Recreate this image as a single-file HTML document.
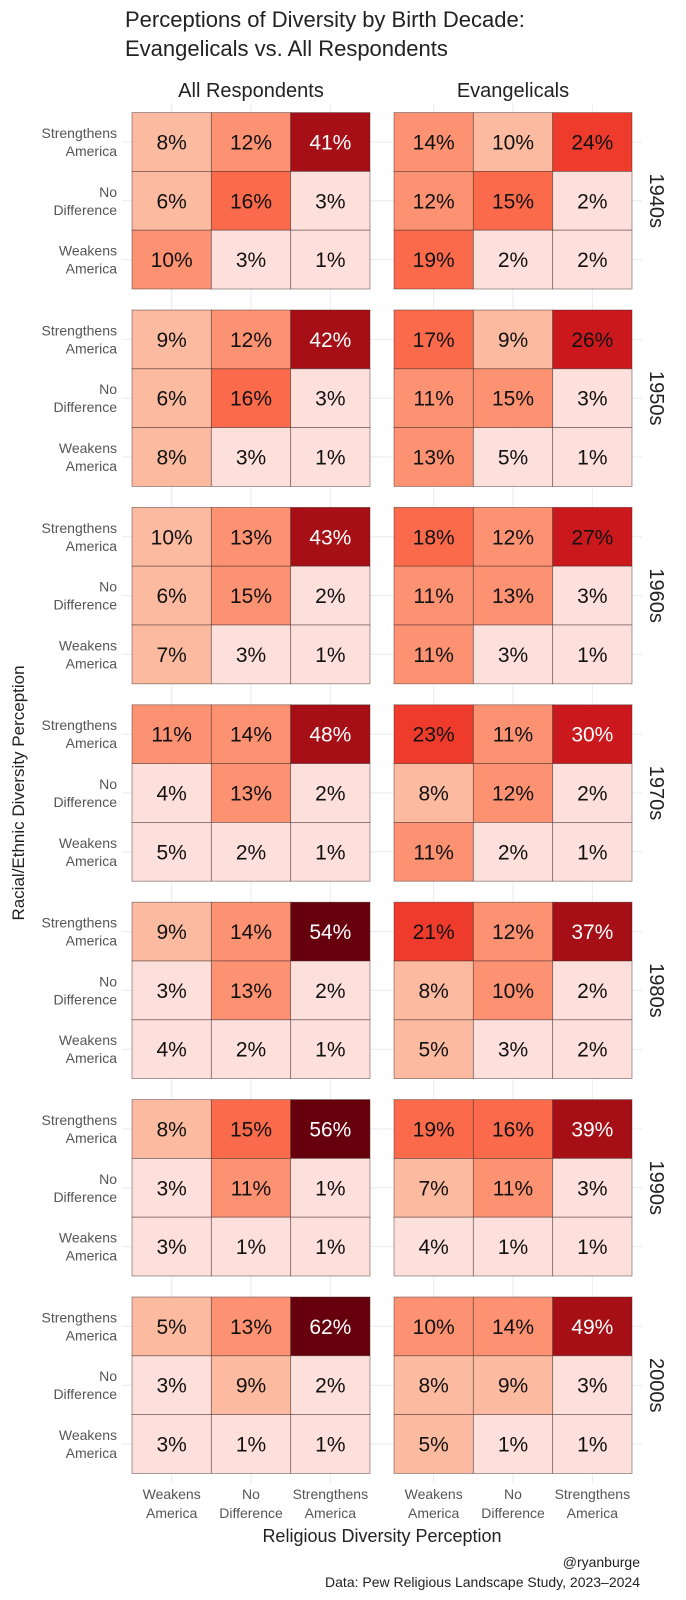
<!DOCTYPE html>
<html><head><meta charset="utf-8">
<style>
html,body{margin:0;padding:0;background:#fff;}
svg{display:block;font-family:"Liberation Sans Narrow","Liberation Sans",sans-serif;}
</style></head>
<body>
<svg id="chart" width="686" height="1600" viewBox="0 0 686 1600">
  <text x="125" y="27" font-size="22" fill="#222">Perceptions of Diversity by Birth Decade:</text>
  <text x="125" y="56" font-size="22" fill="#222">Evangelicals vs. All Respondents</text>
  <text x="251" y="97" font-size="20" fill="#222" text-anchor="middle">All Respondents</text>
  <text x="513" y="97" font-size="20" fill="#222" text-anchor="middle">Evangelicals</text>
  <text transform="translate(24,793) rotate(-90)" font-size="17" fill="#222" text-anchor="middle">Racial/Ethnic Diversity Perception</text>
  <text x="382" y="1542" font-size="18" fill="#222" text-anchor="middle">Religious Diversity Perception</text>
  <text x="640" y="1567" font-size="14" fill="#222" text-anchor="end">@ryanburge</text>
  <text x="640" y="1587" font-size="14" fill="#222" text-anchor="end">Data: Pew Religious Landscape Study, 2023–2024</text>
  <g id="grid"></g>
  <g id="cells"></g>
  <g id="labels"></g>
</svg>
<script>
// Data
const decades = ["1940s","1950s","1960s","1970s","1980s","1990s","2000s"];
const groups = ["All Respondents","Evangelicals"];
const rowCats = ["Strengthens America","No Difference","Weakens America"];
const colCats = ["Weakens America","No Difference","Strengthens America"];
// values[decade][row][col]
const allValues = [
  [[8,12,41],[6,16,3],[10.4,3,1]],
  [[9,12,42],[6,16,3],[8,3,1]],
  [[9.6,13,43],[6,14.6,2],[7,3,1]],
  [[11,14,48],[4,13,2],[4.6,2,1]],
  [[9,14,54],[3,13,2],[4,2,1]],
  [[8,15.4,56],[3,11,1],[3,1,1]],
  [[5.4,13,62],[3,9,2],[3,1,1]]
];
const evValues = [
  [[14,9.6,24],[12,15,2],[19,2,2]],
  [[17,9,26],[11,14.6,3],[13,4.6,1]],
  [[18,12,27],[11,13,3],[11,3,1]],
  [[23,11,30],[8,12,2],[11,2,1]],
  [[21,12,37],[8,10.4,2],[5.4,3,2]],
  [[19,16,39],[7,11,3],[4,1,1]],
  [[10.4,14,49],[8,9,3],[5.4,1,1]]
];

const NS = "http://www.w3.org/2000/svg";
const panelX = [132, 394], panelW = 238;
const panelTop0 = 112.6, panelH = 176.4, panelStep = 197.4;
const colW = panelW / 3, rowH = panelH / 3;
function xPos(g, c){ return panelX[g] + c * colW; }
function yPos(d, r){ return panelTop0 + d * panelStep + r * rowH; }
function fillFor(v){
  if (v < 5) return "#fddfdb";
  if (v < 10) return "#fcbba1";
  if (v < 15) return "#fc9272";
  if (v < 20) return "#fb6a4a";
  if (v < 25) return "#ef3b2c";
  if (v < 35) return "#cb181d";
  if (v < 50) return "#a50f15";
  return "#67000d";
}
function mk(tag, attrs, parent){
  const el = document.createElementNS(NS, tag);
  for (const k in attrs) el.setAttribute(k, attrs[k]);
  parent.appendChild(el);
  return el;
}
const grid = document.getElementById("grid");
const cells = document.getElementById("cells");
const labels = document.getElementById("labels");

// grid lines
for (let g = 0; g < 2; g++) {
  for (let c = 0; c < 3; c++) {
    const x = xPos(g, c) + colW / 2;
    const ln = mk("line", {x1:x, x2:x, y1:panelTop0 - 10, y2:yPos(6,3) + 10, stroke:"#ebebeb", "stroke-width":1}, grid);
    
    
  }
}
for (let d = 0; d < decades.length; d++) {
  for (let r = 0; r < 3; r++) {
    const y = yPos(d, r) + rowH / 2;
    const ln = mk("line", {x1:panelX[0] - 10, x2:panelX[1] + panelW + 10, y1:y, y2:y, stroke:"#ebebeb", "stroke-width":1}, grid);
    
    
  }
}

for (let d = 0; d < decades.length; d++) {
  for (let g = 0; g < 2; g++) {
    const vals = g === 0 ? allValues[d] : evValues[d];
    for (let r = 0; r < 3; r++) {
      for (let c = 0; c < 3; c++) {
        const v = vals[r][c];
        const rect = mk("rect", {x:xPos(g,c), y:yPos(d,r), width:colW, height:rowH, fill:fillFor(v), stroke:"rgba(60,40,40,0.55)", "stroke-width":0.8}, cells);
        
        
        const t = mk("text", {x:xPos(g,c) + colW/2, y:yPos(d,r) + rowH/2 + 7.5, "font-size":21, "text-anchor":"middle", fill: v >= 29.5 ? "#fff" : "#111"}, labels);
        t.textContent = Math.round(v) + "%";
        
        
      }
    }
    // y tick labels (left panel only)
    if (g === 0) {
      const parts = [["Strengthens","America"],["No","Difference"],["Weakens","America"]];
      for (let r = 0; r < 3; r++) {
        const yc = yPos(d, r) + rowH / 2;
        const t = mk("text", {x:117, y:yc - 4, "font-size":14, "text-anchor":"end", fill:"#555"}, labels);
        mk("tspan", {x:117, dy:0}, t).textContent = parts[r][0];
        mk("tspan", {x:117, dy:18}, t).textContent = parts[r][1];
        
        
      }
    }
  }
  const s = mk("text", {transform:"translate(650," + (yPos(d,0) + panelH/2) + ") rotate(90)", "font-size":20, "text-anchor":"middle", fill:"#222"}, labels);
  s.textContent = decades[d];
  
  
}
// x tick labels
const xparts = [["Weakens","America"],["No","Difference"],["Strengthens","America"]];
for (let g = 0; g < 2; g++) {
  for (let c = 0; c < 3; c++) {
    const xc = xPos(g, c) + colW / 2;
    const t = mk("text", {x:xc, y:1499, "font-size":14, "text-anchor":"middle", fill:"#555"}, labels);
    mk("tspan", {x:xc, dy:0}, t).textContent = xparts[c][0];
    mk("tspan", {x:xc, dy:19}, t).textContent = xparts[c][1];
    
    
  }
}
</script>
</body></html>
